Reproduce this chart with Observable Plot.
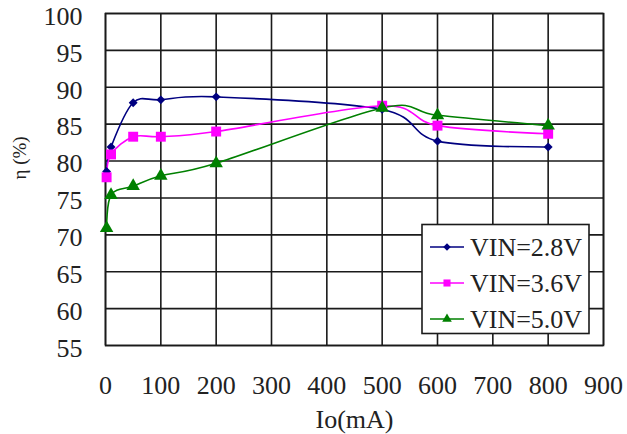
<!DOCTYPE html>
<html><head><meta charset="utf-8">
<script src="https://cdn.jsdelivr.net/npm/d3@7"></script>
<script src="https://cdn.jsdelivr.net/npm/@observablehq/plot@0.6"></script>
<style>body{margin:0;background:#fff}</style>
</head><body><div id="chart"></div>
<script>
const current = [2, 10, 50, 100, 200, 500, 600, 800];
const eff28 = [78.6, 81.9, 87.9, 88.3, 88.7, 87.0, 82.7, 81.9];
const eff36 = [77.8, 80.9, 83.3, 83.3, 84.0, 87.5, 84.8, 83.7];
const eff50 = [70.9, 75.4, 76.6, 78.0, 79.7, 87.2, 86.2, 84.8];
const seriesNames = ["VIN=2.8V", "VIN=3.6V", "VIN=5.0V"];
const seriesColors = ["#000080", "#ff00ff", "#008000"];
const seriesSymbols = ["diamond2", "square", "triangle"];
const xTicks = [0, 100, 200, 300, 400, 500, 600, 700, 800, 900];
const yTicks = [55, 60, 65, 70, 75, 80, 85, 90, 95, 100];
const xLabel = "Io(mA)";
const yLabel = "η (%)";

const allSeries = [eff28, eff36, eff50];
const rows = [];
allSeries.forEach((vals, i) => vals.forEach((v, j) => rows.push({x: current[j], y: v, s: seriesNames[i]})));

const dotSizes = {"VIN=2.8V": 4.0, "VIN=3.6V": 5.6, "VIN=5.0V": 5.0};
const gridStyle = {stroke: "#1a1a1a", strokeOpacity: 1, strokeWidth: 1.6};

const plot = Plot.plot({
  width: 627, height: 434,
  marginLeft: 105, marginRight: 24, marginTop: 13, marginBottom: 89,
  style: {fontFamily: "'Liberation Serif', serif", fontSize: "26px", background: "#fff", color: "#222"},
  x: {domain: [0, 900]},
  y: {domain: [55, 100]},
  color: {domain: seriesNames, range: seriesColors},
  symbol: {domain: seriesNames, range: seriesSymbols},
  marks: [
    Plot.gridX(xTicks, gridStyle),
    Plot.gridY(yTicks, gridStyle),
    Plot.frame({stroke: "#1a1a1a", strokeWidth: 1.6}),
    Plot.axisX({ticks: xTicks, tickSize: 0, tickPadding: 30, label: null, fill: "#222"}),
    Plot.axisY({ticks: yTicks, tickSize: 0, tickPadding: 23, label: null, fill: "#222", dy: 3}),
    Plot.line(rows, {x: "x", y: "y", stroke: "s", z: "s", curve: "cardinal", strokeWidth: 1.6}),
    ...seriesNames.map(name => Plot.dot(rows.filter(d => d.s === name), {x: "x", y: "y", fill: "s", stroke: "none", symbol: "s", r: dotSizes[name]})),
    Plot.text([xLabel], {frameAnchor: "bottom", dy: 82, fontSize: 26, fill: "#222"}),
    Plot.text([yLabel], {frameAnchor: "left", dx: -86, rotate: -90, fontSize: 19, fill: "#222"})
  ]
});
document.getElementById("chart").appendChild(plot);

// legend
const svg = d3.select(plot);
const lg = svg.append("g").attr("font-family", "'Liberation Serif', serif").attr("font-size", 26).attr("text-anchor", "start");
lg.append("rect").attr("x", 422).attr("y", 224.5).attr("width", 167).attr("height", 109)
  .attr("fill", "#fff").attr("stroke", "#1a1a1a").attr("stroke-width", 1.6);
const symMap = {diamond2: d3.symbolDiamond2, square: d3.symbolSquare, triangle: d3.symbolTriangle};
const legSizes = [36, 50, 40];
seriesNames.forEach((name, i) => {
  const cy = 247 + i * 36;
  lg.append("line").attr("x1", 430).attr("x2", 464).attr("y1", cy).attr("y2", cy)
    .attr("stroke", seriesColors[i]).attr("stroke-width", 1.6);
  lg.append("path").attr("transform", `translate(447,${cy})`)
    .attr("d", d3.symbol(symMap[seriesSymbols[i]], legSizes[i])()).attr("fill", seriesColors[i]);
  lg.append("text").attr("x", 470).attr("y", cy).attr("dy", "0.35em").attr("fill", "#222").text(name);
});
</script>
</body></html>
